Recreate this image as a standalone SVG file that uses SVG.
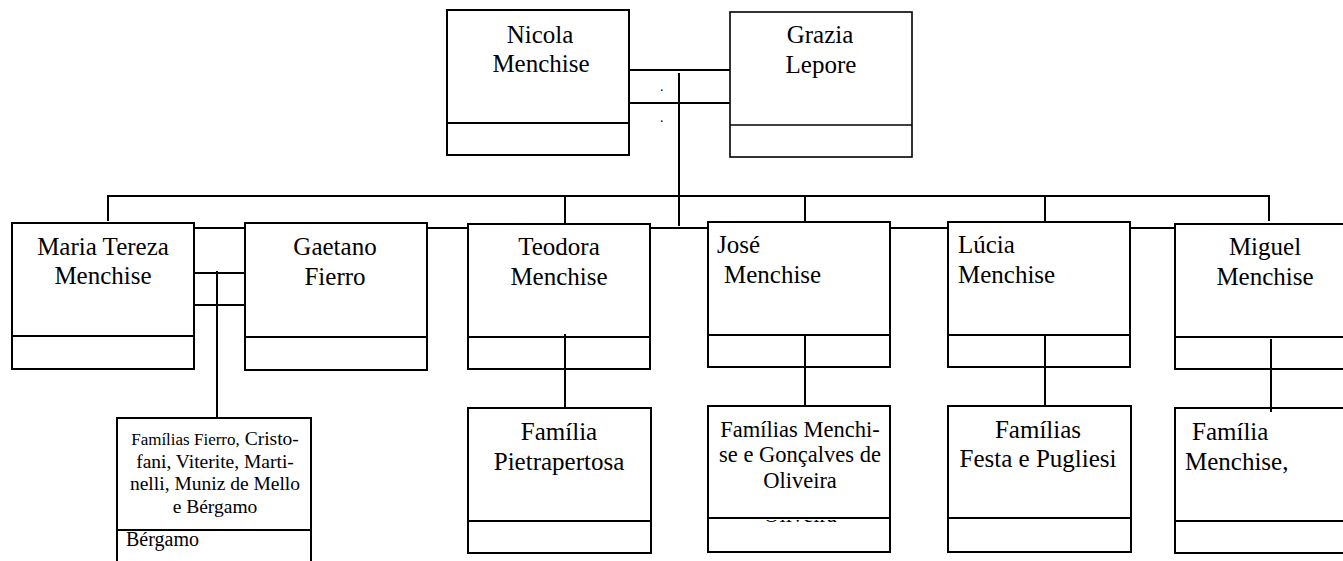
<svg xmlns="http://www.w3.org/2000/svg" width="1343" height="561" viewBox="0 0 1343 561">
<style>
.box{fill:#fff;stroke:#000;stroke-width:2}
.ln{stroke:#000;stroke-width:2;fill:none}
.t{font-size:25px;fill:#000}
.c{text-anchor:middle}
</style>
<defs>
<clipPath id="clipOl"><rect x="700" y="520" width="200" height="12"/></clipPath>
</defs>
<rect width="1343" height="561" fill="#fff"/>
<g font-family="Liberation Serif, Times New Roman, Times, DejaVu Serif, serif">
<g id="nicola">
<rect class="box" x="447" y="10" width="182" height="145"/>
<line class="ln" x1="447" y1="123" x2="629" y2="123"/>
<text class="t c" x="540" y="43">Nicola</text>
<text class="t c" x="541" y="72">Menchise</text>
</g>
<g id="grazia">
<rect class="box" x="730" y="12" width="182" height="145" style="stroke-width:1.6"/>
<line class="ln" x1="730" y1="125" x2="912" y2="125" style="stroke-width:1.6"/>
<text class="t c" x="820" y="43">Grazia</text>
<text class="t c" x="821" y="73">Lepore</text>
</g>

<g id="maria">
<rect class="box" x="12" y="223" width="182" height="146"/>
<line class="ln" x1="12" y1="336" x2="194" y2="336"/>
<text class="t c" x="103" y="255">Maria Tereza</text>
<text class="t c" x="103" y="284">Menchise</text>
</g>
<g id="gaetano">
<rect class="box" x="245" y="223" width="182" height="147"/>
<line class="ln" x1="245" y1="337" x2="427" y2="337"/>
<text class="t c" x="335" y="255">Gaetano</text>
<text class="t c" x="335" y="285">Fierro</text>
</g>
<g id="teodora">
<rect class="box" x="468" y="224" width="182" height="145"/>
<line class="ln" x1="468" y1="337" x2="650" y2="337"/>
<text class="t c" x="559" y="255">Teodora</text>
<text class="t c" x="559" y="285">Menchise</text>
</g>
<g id="jose">
<rect class="box" x="708" y="222" width="182" height="145"/>
<line class="ln" x1="708" y1="335" x2="890" y2="335"/>
<text class="t" x="717" y="253">José</text>
<text class="t" x="724" y="283">Menchise</text>
</g>
<g id="lucia">
<rect class="box" x="948" y="222" width="182" height="145"/>
<line class="ln" x1="948" y1="335" x2="1130" y2="335"/>
<text class="t" x="958" y="253">Lúcia</text>
<text class="t" x="958" y="283">Menchise</text>
</g>
<g id="miguel">
<rect class="box" x="1175" y="224" width="200" height="145"/>
<line class="ln" x1="1175" y1="337" x2="1343" y2="337"/>
<text class="t c" x="1265" y="255">Miguel</text>
<text class="t c" x="1265" y="285">Menchise</text>
</g>

<g id="fam-fierro">
<rect class="box" x="117" y="418" width="194" height="160"/>
<line class="ln" x1="117" y1="530" x2="311" y2="530"/>
<text class="t c" x="215" y="445" style="font-size:19.5px"><tspan style="font-size:17px">Famílias Fierro,</tspan> Cristo-</text>
<text class="t c" x="215" y="468" style="font-size:19.5px">fani, Viterite, Marti-</text>
<text class="t c" x="215" y="490" style="font-size:19.5px">nelli, Muniz de Mello</text>
<text class="t c" x="215" y="513" style="font-size:19.5px">e Bérgamo</text>
<text class="t" x="126" y="546" style="font-size:20px">Bérgamo</text>
</g>
<g id="fam-pietrapertosa">
<rect class="box" x="468" y="408" width="183" height="145"/>
<line class="ln" x1="468" y1="521" x2="651" y2="521"/>
<text class="t c" x="559" y="440">Família</text>
<text class="t c" x="559" y="470">Pietrapertosa</text>
</g>
<g id="fam-menchise-goncalves">
<rect class="box" x="708" y="406" width="182" height="146"/>
<text class="t c" x="800" y="522" style="font-size:22.5px" clip-path="url(#clipOl)">Oliveira</text>
<line class="ln" x1="708" y1="518" x2="890" y2="518"/>
<text class="t c" x="800" y="437" style="font-size:22.5px">Famílias Menchi-</text>
<text class="t c" x="800" y="462" style="font-size:22.5px">se e Gonçalves de</text>
<text class="t c" x="800" y="488" style="font-size:22.5px">Oliveira</text>
</g>
<g id="fam-festa-pugliesi">
<rect class="box" x="948" y="406" width="183" height="146"/>
<line class="ln" x1="948" y1="518" x2="1131" y2="518"/>
<text class="t c" x="1038" y="438">Famílias</text>
<text class="t c" x="1038" y="467">Festa e Pugliesi</text>
</g>
<g id="fam-menchise">
<rect class="box" x="1175" y="408" width="200" height="145"/>
<line class="ln" x1="1175" y1="521" x2="1343" y2="521"/>
<text class="t" x="1192" y="440">Família</text>
<text class="t" x="1185" y="470">Menchise,</text>
</g>

<g id="connectors">
<line class="ln" x1="629" y1="70" x2="730" y2="70"/>
<line class="ln" x1="629" y1="103" x2="730" y2="103"/>
<line class="ln" x1="679" y1="73" x2="679" y2="226"/>
<text class="t" x="660" y="91" style="font-size:14px">.</text>
<text class="t" x="660" y="122" style="font-size:14px">.</text>
<polyline class="ln" points="108,221 108,196 1269,196 1269,221"/>
<line class="ln" x1="565" y1="196" x2="565" y2="224"/>
<line class="ln" x1="805" y1="196" x2="805" y2="222"/>
<line class="ln" x1="1045" y1="196" x2="1045" y2="222"/>
<line class="ln" x1="194" y1="228" x2="245" y2="228"/>
<line class="ln" x1="427" y1="228" x2="468" y2="228"/>
<line class="ln" x1="650" y1="228" x2="708" y2="228"/>
<line class="ln" x1="890" y1="228" x2="948" y2="228"/>
<line class="ln" x1="1130" y1="228" x2="1175" y2="228"/>
<line class="ln" x1="194" y1="273" x2="245" y2="273"/>
<line class="ln" x1="194" y1="305" x2="245" y2="305"/>
<line class="ln" x1="217" y1="271" x2="217" y2="418"/>
<line class="ln" x1="565" y1="334" x2="565" y2="408"/>
<line class="ln" x1="805" y1="334" x2="805" y2="406"/>
<line class="ln" x1="1045" y1="334" x2="1045" y2="406"/>
<line class="ln" x1="1271" y1="339" x2="1271" y2="412"/>
</g>
</g>
</svg>
